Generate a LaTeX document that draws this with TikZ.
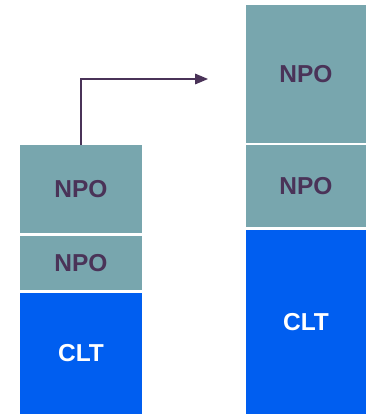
\documentclass[tikz,border=0pt]{standalone}
\usepackage{fontspec}
\setmainfont{Liberation Sans}
\usepackage{tikz}
\usetikzlibrary{calc, shapes, arrows}
\definecolor{npofill}{HTML}{78A6AE}
\definecolor{cltfill}{HTML}{005EF0}
\definecolor{txtdark}{HTML}{4A3358}
\begin{document}
\begin{tikzpicture}[x=1pt,y=1pt]
\tikzstyle{npo}=[rectangle,fill=npofill,text=txtdark,font=\fontsize{24.5}{26}\selectfont\bfseries,inner sep=0pt]
\tikzstyle{clt}=[rectangle,fill=cltfill,text=white,font=\fontsize{24.5}{26}\selectfont\bfseries,inner sep=0pt]
\useasboundingbox (0,0) rectangle (366,-416);
\node[npo,minimum width=122,minimum height=88] (L_0) at (81,-189) {NPO};
\node[npo,minimum width=122,minimum height=54] (L_1) at (81,-263) {NPO};
\node[clt,minimum width=122,minimum height=121] (L_2) at (81,-353.5) {CLT};
\node[npo,minimum width=120,minimum height=138] (R_0) at (306,-74) {NPO};
\node[npo,minimum width=120,minimum height=82] (R_1) at (306,-186) {NPO};
\node[clt,minimum width=120,minimum height=184] (R_2) at (306,-322) {CLT};
\coordinate (A_end) at (208,-79);
\draw[txtdark,line width=2pt,-triangle 45] (L_0.north) |- (A_end);
\end{tikzpicture}
\end{document}
